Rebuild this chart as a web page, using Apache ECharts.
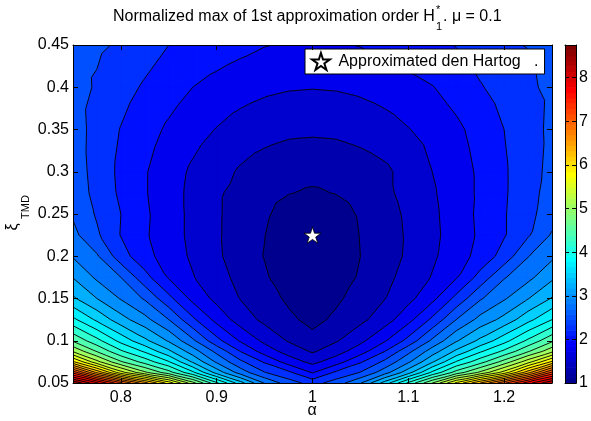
<!DOCTYPE html>
<html>
<head>
<meta charset="utf-8">
<script src="https://cdn.jsdelivr.net/npm/echarts@6/dist/echarts.min.js"></script>
<style>html,body{margin:0;padding:0;background:#fff;}#chart{width:591px;height:421px;}</style>
</head>
<body>
<div id="chart"></div>
<script>
// ---------------- values ----------------
const alphaValues = [0.75,0.775,0.8,0.825,0.85,0.875,0.9,0.925,0.95,0.975,1.0,1.025,1.05,1.075,1.1,1.125,1.15,1.175,1.2,1.225,1.25];
const xiValues = [0.05,0.0625,0.075,0.0875,0.1,0.125,0.15,0.175,0.2,0.225,0.25,0.275,0.3,0.35,0.4,0.45];
// normalized max |H1*| estimated on the grid, one row per xi value
const zXi0500 = [8.75,8.05,7.3,6.6,5.9,5.1,4.3,3.6,2.98,2.62,2.4,2.62,2.98,3.6,4.3,5.0,5.8,6.5,7.2,7.9,8.5];
const zXi0625 = [7.41,6.45,5.6,5.05,4.6,4.05,3.4,2.88,2.51,2.30,1.98,2.30,2.51,2.88,3.4,4.05,4.6,5.05,5.6,6.4,7.3];
const zXi0750 = [6.05,5.33,4.78,4.4,4.02,3.47,2.96,2.55,2.22,1.89,1.68,1.89,2.22,2.55,2.96,3.47,4.02,4.4,4.85,5.4,6.05];
const zXi0875 = [5.22,4.73,4.29,3.96,3.55,3.12,2.68,2.24,1.89,1.645,1.47,1.645,1.89,2.24,2.68,3.12,3.55,3.96,4.3,4.72,5.18];
const zXi1000 = [4.72,4.33,3.92,3.56,3.22,2.80,2.33,1.97,1.69,1.48,1.33,1.48,1.69,1.97,2.33,2.80,3.22,3.56,3.91,4.30,4.70];
const zXi1250 = [4.06,3.70,3.35,3.08,2.75,2.30,1.92,1.63,1.44,1.30,1.18,1.30,1.44,1.63,1.92,2.30,2.75,3.08,3.33,3.67,4.0];
const zXi1500 = [3.54,3.25,2.98,2.72,2.32,1.93,1.68,1.49,1.35,1.21,1.09,1.21,1.35,1.49,1.68,1.93,2.32,2.72,2.97,3.24,3.52];
const zXi1750 = [3.24,2.955,2.75,2.34,1.98,1.765,1.59,1.43,1.285,1.10,1.03,1.10,1.285,1.43,1.59,1.765,1.98,2.34,2.73,2.93,3.2];
const zXi2000 = [2.98,2.78,2.36,2.08,1.886,1.71,1.54,1.38,1.24,1.06,1.0,1.06,1.25,1.38,1.54,1.71,1.886,2.08,2.35,2.74,2.95];
const zXi2250 = [2.82,2.54,2.24,2.03,1.86,1.69,1.53,1.39,1.255,1.08,1.02,1.08,1.26,1.39,1.53,1.69,1.86,2.04,2.23,2.47,2.78];
const zXi2500 = [2.72,2.47,2.25,2.04,1.86,1.69,1.53,1.40,1.29,1.14,1.08,1.14,1.28,1.41,1.54,1.70,1.87,2.05,2.23,2.43,2.63];
const zXi2750 = [2.68,2.41,2.21,2.02,1.85,1.69,1.53,1.43,1.35,1.26,1.22,1.26,1.35,1.45,1.57,1.72,1.88,2.04,2.22,2.41,2.6];
const zXi3000 = [2.66,2.39,2.20,2.02,1.86,1.71,1.59,1.47,1.385,1.336,1.32,1.336,1.38,1.45,1.59,1.75,1.89,2.04,2.22,2.40,2.57];
const zXi3500 = [2.63,2.40,2.24,2.10,1.96,1.84,1.74,1.65,1.59,1.55,1.54,1.55,1.59,1.65,1.74,1.84,1.95,2.09,2.25,2.41,2.55];
const zXi4000 = [2.61,2.47,2.34,2.22,2.11,2.0,1.92,1.85,1.80,1.77,1.76,1.77,1.80,1.85,1.92,1.99,2.10,2.23,2.35,2.47,2.54];
const zXi4500 = [2.6,2.54,2.47,2.36,2.25,2.19,2.13,2.07,2.01,1.98,1.96,1.98,2.01,2.075,2.14,2.20,2.26,2.37,2.47,2.51,2.56];
const zGrid = [zXi0500,zXi0625,zXi0750,zXi0875,zXi1000,zXi1250,zXi1500,zXi1750,zXi2000,zXi2250,zXi2500,zXi2750,zXi3000,zXi3500,zXi4000,zXi4500];
const contourLevels = [1.25,1.5,1.75,2,2.25,2.5,2.75,3,3.25,3.5,3.75,4,4.25,4.5,4.75,5,5.25,5.5,5.75,6,6.25,6.5,6.75,7,7.25,7.5,7.75,8,8.25,8.5];
const colorRange = [1, 8.75];
const xTickValues = [0.8,0.9,1,1.1,1.2];
const colorbarTickValues = [1,2,3,4,5,6,7,8];
const denHartogPoint = [[1.0, 0.225]];
const legendName = 'Approximated den Hartog   .';

// ---------------- colormap (MATLAB jet, 64 entries) ----------------
const JET = (function(){
  const m=64, n=16, u=[];
  for(let i=1;i<=n;i++)u.push(i/n);
  for(let i=0;i<n-1;i++)u.push(1);
  for(let i=n;i>=1;i--)u.push(i/n);
  const J=[]; for(let i=0;i<m;i++)J.push([0,0,0]);
  const g0=Math.ceil(n/2)-((m%4)===1?1:0);
  for(let k=0;k<u.length;k++){const g=g0+k+1,r=g+n,b=g-n;
    if(g>=1&&g<=m)J[g-1][1]=u[k]; if(r>=1&&r<=m)J[r-1][0]=u[k]; if(b>=1&&b<=m)J[b-1][2]=u[k];}
  return J.map(c=>'rgb('+Math.round(c[0]*255)+','+Math.round(c[1]*255)+','+Math.round(c[2]*255)+')');
})();
function colorFor(v){
  let idx=Math.floor((v-colorRange[0])/(colorRange[1]-colorRange[0])*64);
  idx=Math.max(0,Math.min(63,idx)); return JET[idx];
}
const colorbarCells = JET.map((c,k)=>[k, colorRange[0]+k*(colorRange[1]-colorRange[0])/64]);

// ---------------- filled contour rendering ----------------
const f2=v=>v.toFixed(2);
function lerpP(u,v,L){const s=(L-u.z)/(v.z-u.z);return [u.p[0]+s*(v.p[0]-u.p[0]),u.p[1]+s*(v.p[1]-u.p[1])];}
function clipTri(t,L){const out=[];for(let q=0;q<3;q++){const u=t[q],v=t[(q+1)%3];const ui=u.z>=L,vi=v.z>=L;
  if(ui)out.push(u.p); if(ui!==vi)out.push(lerpP(u,v,L));} return out;}
function crossTri(t,L){const pts=[];for(let q=0;q<3;q++){const u=t[q],v=t[(q+1)%3];
  if((u.z>=L)!==(v.z>=L))pts.push(lerpP(u,v,L));} return pts.length===2?pts:null;}
function polyPath(pts){let s='M'+f2(pts[0][0])+' '+f2(pts[0][1]);for(let i=1;i<pts.length;i++)s+='L'+f2(pts[i][0])+' '+f2(pts[i][1]);return s+'Z';}
function renderField(params, api){
  const nx=alphaValues.length, ny=xiValues.length, nL=contourLevels.length;
  const P=[];
  for(let j=0;j<ny;j++){const row=[];for(let i=0;i<nx;i++)row.push(api.coord([alphaValues[i],xiValues[j]]));P.push(row);}
  const thr=[-Infinity].concat(contourLevels);
  const cols=[colorFor(colorRange[0])].concat(contourLevels.map(colorFor));
  const fillD=[];for(let k=0;k<=nL;k++)fillD.push([]);
  const lineD=[];
  const V=(j,i)=>({p:P[j][i],z:zGrid[j][i]});
  for(let j=0;j<ny-1;j++)for(let i=0;i<nx-1;i++){
    const a=V(j,i),b=V(j,i+1),c=V(j+1,i+1),d=V(j+1,i);
    const tris=(alphaValues[i]<0.9999)?[[a,b,d],[b,c,d]]:[[a,b,c],[a,c,d]];
    for(const t of tris){
      const zmin=Math.min(t[0].z,t[1].z,t[2].z), zmax=Math.max(t[0].z,t[1].z,t[2].z);
      let k0=0;for(let k=1;k<=nL;k++){if(thr[k]<=zmin)k0=k;}
      fillD[k0].push(polyPath(t.map(v=>v.p)));
      for(let k=k0+1;k<=nL;k++){const L=thr[k];if(L>=zmax)break;
        const poly=clipTri(t,L);if(poly.length>=3)fillD[k].push(polyPath(poly));
        const seg=crossTri(t,L);if(seg)lineD.push('M'+f2(seg[0][0])+' '+f2(seg[0][1])+'L'+f2(seg[1][0])+' '+f2(seg[1][1]));}
    }
  }
  const children=[];
  for(let k=0;k<=nL;k++){ if(!fillD[k].length)continue;
    children.push({type:'path',shape:{pathData:fillD[k].join('')},style:{fill:cols[k],stroke:cols[k],lineWidth:0.4}}); }
  children.push({type:'path',shape:{pathData:lineD.join('')},style:{fill:null,stroke:'#000',lineWidth:0.9}});
  return {type:'group',children};
}
function renderColorbar(params, api){
  const k=api.value(0), lo=api.value(1), hi=lo+(colorRange[1]-colorRange[0])/64;
  const p0=api.coord([0,lo]), p1=api.coord([1,hi]);
  return {type:'rect',shape:{x:p0[0],y:p1[1],width:p1[0]-p0[0],height:p0[1]-p1[1]+0.6},style:{fill:JET[k]}};
}

// ---------------- text layout helpers ----------------
const FONT='"Liberation Sans", Arial, Helvetica, sans-serif';
const mctx=document.createElement('canvas').getContext('2d');
function tw(s,size){mctx.font=size+'px '+FONT;return mctx.measureText(s).width;}
const titleMain='Normalized max of 1st approximation order H';
const titleRest='. \u03bc = 0.1';
const tx0=113, wMain=tw(titleMain,16), wSub=tw('1',11);
const fmt=v=>String(parseFloat((+v).toFixed(4)));

const starPath=(function(){let d='';for(let i=0;i<10;i++){const r=i%2===0?1:0.382;const a=-Math.PI/2+i*Math.PI/5;
  d+=(i===0?'M':'L')+(r*Math.cos(a)).toFixed(4)+' '+(r*Math.sin(a)).toFixed(4)+' ';}return 'path://'+d+'Z';})();

const axisBlack={color:'#000',width:1};
const chart=echarts.init(document.getElementById('chart'),null,{renderer:'canvas'});
chart.setOption({
  animation:false,
  backgroundColor:'#fff',
  textStyle:{fontFamily:FONT},
  grid:[{left:73,top:45,width:479,height:338},{left:565,top:45,width:19,height:338}],
  xAxis:[
    {gridIndex:0,type:'value',min:0.75,max:1.25,interval:0.05,position:'bottom',z:10,
     axisLine:{show:true,onZero:false,lineStyle:axisBlack},
     axisTick:{show:true,inside:true,length:5,customValues:xTickValues,lineStyle:axisBlack},
     axisLabel:{show:true,customValues:xTickValues,formatter:fmt,color:'#000',fontSize:16,fontFamily:FONT,margin:7},
     splitLine:{show:false}},
    {gridIndex:0,type:'value',min:0.75,max:1.25,interval:0.05,position:'top',z:10,
     axisLine:{show:true,onZero:false,lineStyle:axisBlack},
     axisTick:{show:true,inside:true,length:5,customValues:xTickValues,lineStyle:axisBlack},
     axisLabel:{show:false},splitLine:{show:false}},
    {gridIndex:1,type:'value',min:0,max:1,position:'bottom',z:10,
     axisLine:{show:true,onZero:false,lineStyle:axisBlack},axisTick:{show:false},axisLabel:{show:false},splitLine:{show:false}},
    {gridIndex:1,type:'value',min:0,max:1,position:'top',z:10,
     axisLine:{show:true,onZero:false,lineStyle:axisBlack},axisTick:{show:false},axisLabel:{show:false},splitLine:{show:false}}
  ],
  yAxis:[
    {gridIndex:0,type:'value',min:0.05,max:0.45,interval:0.05,position:'left',z:10,
     axisLine:{show:true,onZero:false,lineStyle:axisBlack},
     axisTick:{show:true,inside:true,length:5,lineStyle:axisBlack},
     axisLabel:{formatter:fmt,color:'#000',fontSize:16,fontFamily:FONT,margin:4},splitLine:{show:false}},
    {gridIndex:0,type:'value',min:0.05,max:0.45,interval:0.05,position:'right',z:10,
     axisLine:{show:true,onZero:false,lineStyle:axisBlack},
     axisTick:{show:true,inside:true,length:5,lineStyle:axisBlack},
     axisLabel:{show:false},splitLine:{show:false}},
    {gridIndex:1,type:'value',min:1,max:8.75,interval:1,position:'right',z:10,
     axisLine:{show:true,onZero:false,lineStyle:axisBlack},
     axisTick:{show:true,inside:true,length:4,customValues:colorbarTickValues,lineStyle:axisBlack},
     axisLabel:{customValues:colorbarTickValues,formatter:fmt,color:'#000',fontSize:16,fontFamily:FONT,margin:3},splitLine:{show:false}},
    {gridIndex:1,type:'value',min:1,max:8.75,interval:1,position:'left',z:10,
     axisLine:{show:true,onZero:false,lineStyle:axisBlack},
     axisTick:{show:true,inside:true,length:4,customValues:colorbarTickValues,lineStyle:axisBlack},
     axisLabel:{show:false},splitLine:{show:false}}
  ],
  legend:{show:true,left:305,top:49,data:[{name:legendName,icon:starPath}],selectedMode:false,
    backgroundColor:'#fff',borderColor:'#000',borderWidth:1,borderRadius:0,padding:[3,6,3,6],
    itemWidth:25,itemHeight:17,textStyle:{fontSize:16,fontFamily:FONT,color:'#000'}},
  series:[
    {type:'custom',name:'field',xAxisIndex:0,yAxisIndex:0,renderItem:renderField,data:[[1,0.25]],silent:true,clip:true,z:1},
    {type:'custom',name:'colorbar',xAxisIndex:2,yAxisIndex:2,renderItem:renderColorbar,data:colorbarCells,silent:true,z:1},
    {type:'scatter',name:legendName,xAxisIndex:0,yAxisIndex:0,data:denHartogPoint,symbol:starPath,symbolKeepAspect:true,symbolSize:17,
     itemStyle:{color:'#fff',borderColor:'#000',borderWidth:0.8,opacity:1},z:5,silent:true}
  ],
  graphic:{elements:[
    {type:'text',x:tx0,y:17,style:{text:titleMain,fontSize:16,fontFamily:FONT,fill:'#000',align:'left',verticalAlign:'middle'}},
    {type:'text',x:tx0+wMain+1,y:10,style:{text:'*',fontSize:11,fontFamily:FONT,fill:'#000',align:'left',verticalAlign:'middle'}},
    {type:'text',x:tx0+wMain+1,y:27,style:{text:'1',fontSize:11,fontFamily:FONT,fill:'#000',align:'left',verticalAlign:'middle'}},
    {type:'text',x:tx0+wMain+2+wSub,y:17,style:{text:titleRest,fontSize:16,fontFamily:FONT,fill:'#000',align:'left',verticalAlign:'middle'}},
    {type:'text',x:312,y:411,style:{text:'\u03b1',fontSize:16,fontFamily:FONT,fill:'#000',align:'center',verticalAlign:'middle'}},
    {type:'text',x:13,y:227,rotation:Math.PI/2,style:{text:'\u03be',fontSize:16,fontFamily:FONT,fill:'#000',align:'center',verticalAlign:'middle'}},
    {type:'text',x:26,y:207,rotation:Math.PI/2,style:{text:'TMD',fontSize:11,fontFamily:FONT,fill:'#000',align:'center',verticalAlign:'middle'}}
  ]}
});
</script>
</body>
</html>
